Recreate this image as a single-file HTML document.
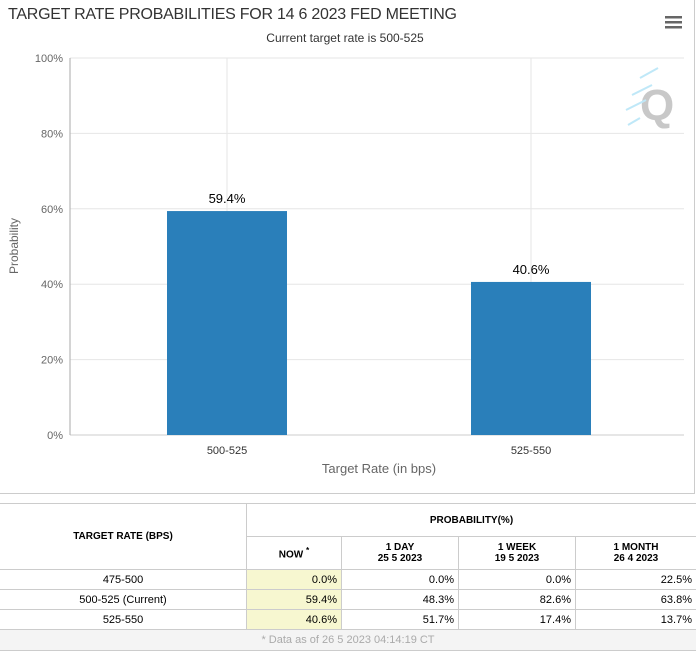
<!DOCTYPE html>
<html><head><meta charset="utf-8"><style>
body{margin:0;width:696px;height:654px;background:#fff;font-family:"Liberation Sans",sans-serif;overflow:hidden;position:relative}
#frame{position:absolute;left:0;top:0;width:694px;height:493px;border-right:1px solid #ccc;border-bottom:1px solid #ccc}
table{position:absolute;left:-1px;top:503px;width:698px;border-collapse:collapse;font-size:11px;color:#000}
td,th{border:1px solid #ccc;padding:0 4px}
th{font-size:10px;font-weight:bold;text-align:center}
.n{text-align:right}.now{background:#f7f7d0}
</style></head><body>
<div id="frame"></div>
<svg id="chart" width="696" height="495" style="position:absolute;left:0;top:0">
<text x="8" y="19" font-size="16" fill="#333" textLength="449" font-family="Liberation Sans,sans-serif">TARGET RATE PROBABILITIES FOR 14 6 2023 FED MEETING</text>
<text x="345" y="42" font-size="12" text-anchor="middle" fill="#333">Current target rate is 500-525</text>
<g><rect x="665" y="16" width="17" height="2.5" fill="#666"/><rect x="665" y="21" width="17" height="2.5" fill="#666"/><rect x="665" y="26" width="17" height="2.5" fill="#666"/></g>
<g><text x="640" y="120" font-size="44" font-weight="bold" fill="#c8c8c8">Q</text>
<g stroke="#bfe8f8" stroke-width="2"><line x1="640" y1="78" x2="658" y2="68"/><line x1="632" y1="95" x2="652" y2="85"/><line x1="626" y1="110" x2="646" y2="100"/><line x1="628" y1="125" x2="640" y2="118"/></g></g>
<g id="grid"></g><g id="bars"></g><g id="axes"></g>
<text x="18" y="246" font-size="12" fill="#666" text-anchor="middle" transform="rotate(-90 18 246)">Probability</text>
<text x="379" y="473" font-size="13" fill="#666" text-anchor="middle">Target Rate (in bps)</text>
</svg>
<table>
<tr style="height:33px"><th rowspan="2" style="width:238px">TARGET RATE (BPS)</th><th colspan="4">PROBABILITY(%)</th></tr>
<tr style="height:33px"><th style="width:86px">NOW <sup>*</sup></th><th style="width:108px">1 DAY<br>25 5 2023</th><th style="width:108px">1 WEEK<br>19 5 2023</th><th>1 MONTH<br>26 4 2023</th></tr>
<tr style="height:20px"><td style="text-align:center">475-500</td><td class="n now">0.0%</td><td class="n">0.0%</td><td class="n">0.0%</td><td class="n">22.5%</td></tr>
<tr style="height:20px"><td style="text-align:center">500-525 (Current)</td><td class="n now">59.4%</td><td class="n">48.3%</td><td class="n">82.6%</td><td class="n">63.8%</td></tr>
<tr style="height:20px"><td style="text-align:center">525-550</td><td class="n now">40.6%</td><td class="n">51.7%</td><td class="n">17.4%</td><td class="n">13.7%</td></tr>
<tr style="height:21px"><td colspan="5" style="text-align:center;color:#aaa;background:#f4f4f4">* Data as of 26 5 2023 04:14:19 CT</td></tr>
</table>
<script>
const categories=["500-525","525-550"];
const values=[59.4,40.6];
const yTicks=[0,20,40,60,80,100];
const NS="http://www.w3.org/2000/svg";
const L=70,R=684,T=58,B=435;
const CL=75,CR=683;
const y=v=>B-(v/100)*(B-T);
const step=(CR-CL)/categories.length;
const cx=i=>CL+step*(i+0.5);
function mk(tag,attrs,parent,txt){const e=document.createElementNS(NS,tag);for(const k in attrs)e.setAttribute(k,attrs[k]);if(txt!==undefined)e.textContent=txt;document.getElementById(parent).appendChild(e);return e;}
yTicks.forEach(t=>{
 const g=mk('line',{x1:L,x2:R,y1:y(t),y2:y(t),stroke:t===0?'#ccc':'#e6e6e6'},'grid');
 
 
 const lb=mk('text',{x:L-7,y:y(t)+4,'font-size':11,fill:'#666','text-anchor':'end'},'axes',t+'%');
 
 
});
categories.forEach((c,i)=>{
 const g=mk('line',{x1:cx(i),x2:cx(i),y1:T,y2:B,stroke:'#e6e6e6'},'grid');
 
 
 const b=mk('rect',{x:cx(i)-60,y:y(values[i]),width:120,height:B-y(values[i]),fill:'#2a7fba'},'bars');
 
 
 const v=mk('text',{x:cx(i),y:y(values[i])-8,'font-size':13,fill:'#000','text-anchor':'middle'},'bars',values[i].toFixed(1)+'%');
 
 
 const xl=mk('text',{x:cx(i),y:B+19,'font-size':11,fill:'#333','text-anchor':'middle'},'axes',c);
 
 
});
const ax=mk('line',{x1:L,x2:L,y1:T,y2:B,stroke:'#aaa'},'axes');


</script>
</body></html>
